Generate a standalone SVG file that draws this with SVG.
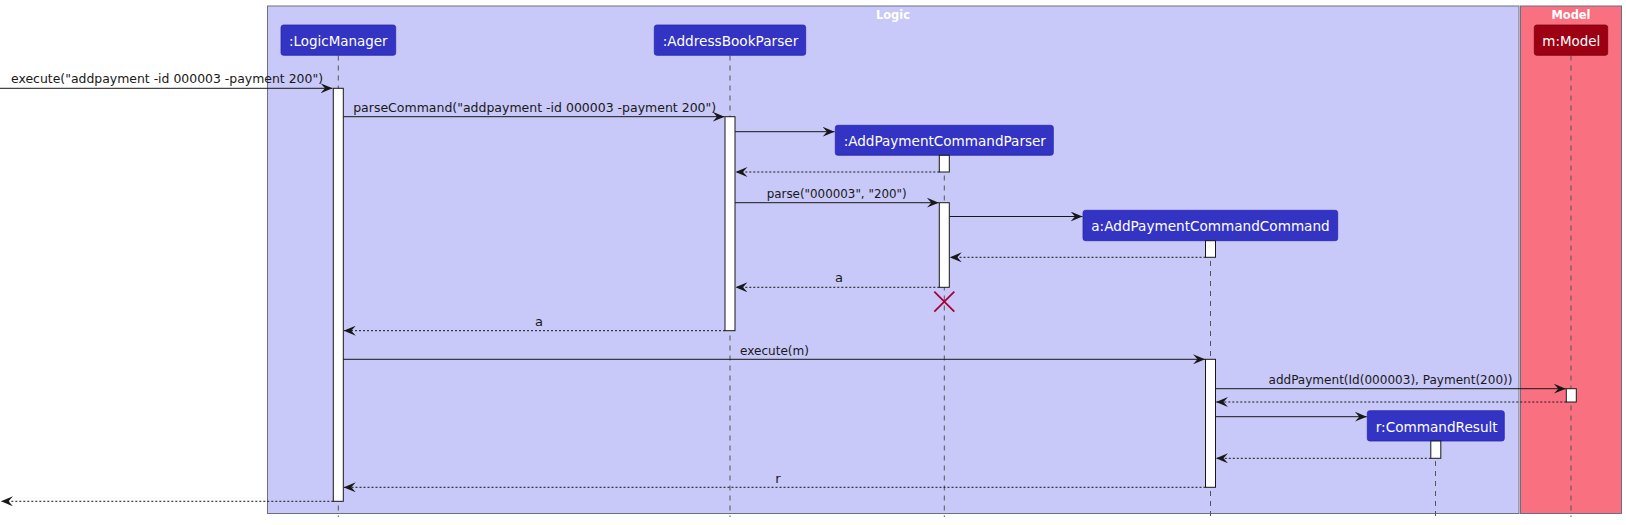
<svg xmlns="http://www.w3.org/2000/svg" width="1626" height="525" viewBox="0 0 1626 525">
<defs>
<style>
.box{fill:#C8C8F9;stroke:#6E6E82;stroke-width:1}
.mbox{fill:#F97181;stroke:#6E6E82;stroke-width:1}
.btitle{font-family:"DejaVu Sans","Liberation Sans",sans-serif;font-size:11.5px;font-weight:bold;fill:#FFFFFF;text-anchor:middle}
.part{fill:#3333C4;stroke:#2A2AA8;stroke-width:0.8}
.mpart{fill:#9D0012;stroke:#7A000E;stroke-width:0.8}
.ptext{font-family:"DejaVu Sans","Liberation Sans",sans-serif;font-size:14px;fill:#FFFFFF;text-anchor:middle}
.life{stroke:#555555;stroke-width:1;stroke-dasharray:5,5;fill:none}
.act{fill:#FFFFFF;stroke:#181818;stroke-width:1}
.msg{stroke:#181818;stroke-width:1;fill:none;marker-end:url(#ah)}
.ret{stroke:#181818;stroke-width:1;fill:none;stroke-dasharray:2,2;marker-end:url(#ah)}
.lbl{font-family:"DejaVu Sans","Liberation Sans",sans-serif;font-size:13px;fill:#181818;text-anchor:middle}
.kill{stroke:#A80036;stroke-width:1.8}
</style>
<marker id="ah" viewBox="0 0 12 10" refX="12" refY="5" markerWidth="12" markerHeight="10" markerUnits="userSpaceOnUse" orient="auto">
<path d="M0,0 L12,5 L0,10 L4.5,5 Z" fill="#181818"/>
</marker>
</defs>
<rect width="1626" height="525" fill="#FFFFFF"/>
<g id="box-logic">
<rect class="box" x="267.5" y="6" width="1251.5" height="507.5"/>
<text class="btitle" x="893" y="19" textLength="34" lengthAdjust="spacingAndGlyphs">Logic</text>
</g>
<g id="box-model">
<rect class="mbox" x="1520.5" y="6" width="101" height="507.5"/>
<text class="btitle" x="1571" y="19" textLength="39" lengthAdjust="spacingAndGlyphs">Model</text>
</g>
<g id="lifelines">
<line class="life" x1="338.3" y1="55.5" x2="338.3" y2="517"/>
<line class="life" x1="730" y1="55.5" x2="730" y2="517"/>
<line class="life" x1="944.3" y1="155.5" x2="944.3" y2="517"/>
<line class="life" x1="1210.5" y1="241" x2="1210.5" y2="517"/>
<line class="life" x1="1435.5" y1="441" x2="1435.5" y2="517"/>
<line class="life" x1="1571" y1="55.5" x2="1571" y2="517"/>
</g>
<g id="p-logicmanager">
<rect class="part" x="281" y="25" width="114.7" height="30.3" rx="2.5"/>
<text class="ptext" x="338.3" y="46" textLength="98.7" lengthAdjust="spacingAndGlyphs">:LogicManager</text>
</g>
<g id="p-addressbookparser">
<rect class="part" x="654.3" y="25" width="151.4" height="30.3" rx="2.5"/>
<text class="ptext" x="730.5" y="46" textLength="135.6" lengthAdjust="spacingAndGlyphs">:AddressBookParser</text>
</g>
<g id="p-addpaymentcommandparser">
<rect class="part" x="835.3" y="125.3" width="218" height="30" rx="2.5"/>
<text class="ptext" x="944.8" y="146.2" textLength="202.3" lengthAdjust="spacingAndGlyphs">:AddPaymentCommandParser</text>
</g>
<g id="p-addpaymentcommandcommand">
<rect class="part" x="1083" y="210.3" width="254.7" height="30.4" rx="2.5"/>
<text class="ptext" x="1210.5" y="231.3" textLength="238.4" lengthAdjust="spacingAndGlyphs">a:AddPaymentCommandCommand</text>
</g>
<g id="p-commandresult">
<rect class="part" x="1367.3" y="410.7" width="137" height="30.3" rx="2.5"/>
<text class="ptext" x="1436.7" y="431.7" textLength="122" lengthAdjust="spacingAndGlyphs">r:CommandResult</text>
</g>
<g id="p-model">
<rect class="mpart" x="1534.3" y="25" width="73.4" height="30.3" rx="2.5"/>
<text class="ptext" x="1571.3" y="46" textLength="58" lengthAdjust="spacingAndGlyphs">m:Model</text>
</g>
<g id="activations">
<rect class="act" x="333.3" y="88.3" width="10" height="413"/>
<rect class="act" x="725" y="116.7" width="10" height="214"/>
<rect class="act" x="939.3" y="155.3" width="10" height="16.7"/>
<rect class="act" x="939.3" y="202.7" width="10" height="84.6"/>
<rect class="act" x="1205.5" y="240.7" width="10" height="16.6"/>
<rect class="act" x="1205.5" y="359.3" width="10" height="128"/>
<rect class="act" x="1566.3" y="388.7" width="10" height="13.3"/>
<rect class="act" x="1430.8" y="441" width="10" height="17.3"/>
</g>
<g id="connectors">
<line class="msg" x1="0" y1="88.3" x2="332.5" y2="88.3"/>
<text class="lbl" x="167" y="83" textLength="312" lengthAdjust="spacingAndGlyphs">execute("addpayment -id 000003 -payment 200")</text>
<line class="msg" x1="343.3" y1="116.7" x2="724.5" y2="116.7"/>
<text class="lbl" x="534.7" y="111.5" textLength="363" lengthAdjust="spacingAndGlyphs">parseCommand("addpayment -id 000003 -payment 200")</text>
<line class="msg" x1="735" y1="131.7" x2="834.5" y2="131.7"/>
<line class="ret" x1="939.3" y1="172" x2="735.5" y2="172"/>
<line class="msg" x1="735" y1="202.7" x2="938.8" y2="202.7"/>
<text class="lbl" x="836.7" y="197.5" textLength="140" lengthAdjust="spacingAndGlyphs">parse("000003", "200")</text>
<line class="msg" x1="949.3" y1="216.5" x2="1082.5" y2="216.5"/>
<line class="ret" x1="1205.5" y1="257.3" x2="949.8" y2="257.3"/>
<line class="ret" x1="939.3" y1="287.3" x2="735.5" y2="287.3"/>
<text class="lbl" x="839" y="282">a</text>
<line class="kill" x1="934.3" y1="291.7" x2="954.3" y2="311.7"/>
<line class="kill" x1="954.3" y1="291.7" x2="934.3" y2="311.7"/>
<line class="ret" x1="725" y1="330.7" x2="343.8" y2="330.7"/>
<text class="lbl" x="539" y="325.5">a</text>
<line class="msg" x1="343.3" y1="359.3" x2="1205" y2="359.3"/>
<text class="lbl" x="774.5" y="354.5" textLength="69" lengthAdjust="spacingAndGlyphs">execute(m)</text>
<line class="msg" x1="1215.5" y1="388.7" x2="1565.8" y2="388.7"/>
<text class="lbl" x="1390.5" y="383.5" textLength="244" lengthAdjust="spacingAndGlyphs">addPayment(Id(000003), Payment(200))</text>
<line class="ret" x1="1566.3" y1="402" x2="1216" y2="402"/>
<line class="msg" x1="1215.5" y1="416.7" x2="1366.8" y2="416.7"/>
<line class="ret" x1="1430.8" y1="458.3" x2="1216" y2="458.3"/>
<line class="ret" x1="1205.5" y1="487.3" x2="343.8" y2="487.3"/>
<text class="lbl" x="778" y="482.7">r</text>
<line class="ret" x1="333.3" y1="501.3" x2="1" y2="501.3"/>
</g>
</svg>
